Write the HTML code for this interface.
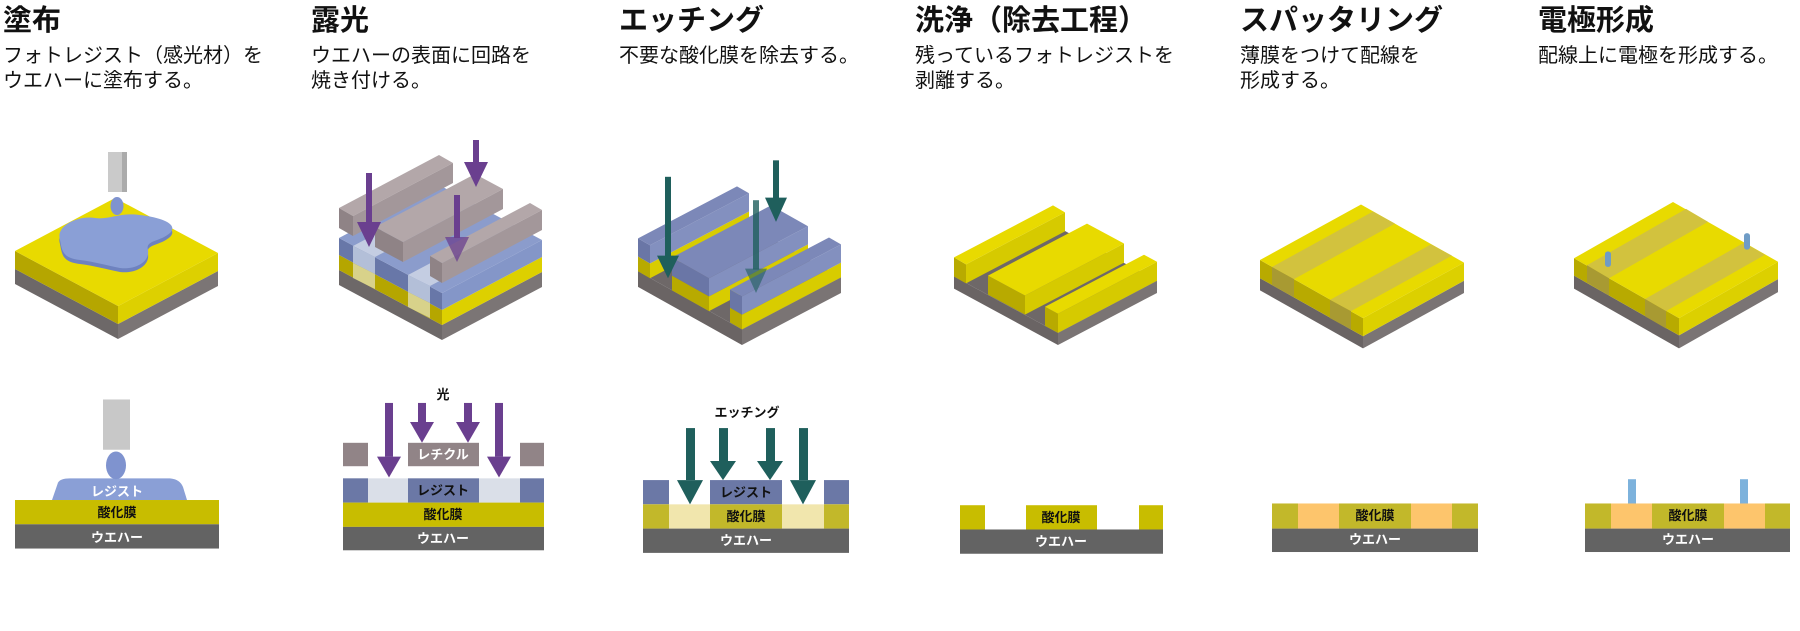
<!DOCTYPE html>
<html><head><meta charset="utf-8"><style>
body{margin:0;width:1800px;height:631px;background:#fff;overflow:hidden;position:relative;font-family:"Liberation Sans","Noto Sans CJK JP",sans-serif;color:#111}
.t{position:absolute;top:4px;font-size:29px;font-weight:bold;line-height:34px;white-space:nowrap}
.d{position:absolute;top:44px;font-size:20px;line-height:25px;white-space:nowrap}
svg{position:absolute;left:0;top:0}
svg text{font-family:"Liberation Sans","Noto Sans CJK JP",sans-serif;font-weight:bold;font-size:13px;text-anchor:middle}
.w{fill:#fff}.k{fill:#111}
</style></head><body>
<div class="t" style="left:3px">塗布</div>
<div class="d" style="left:3px">フォトレジスト（感光材）を<br>ウエハーに塗布する。</div>
<div class="t" style="left:311px">露光</div>
<div class="d" style="left:311px">ウエハーの表面に回路を<br>焼き付ける。</div>
<div class="t" style="left:619px">エッチング</div>
<div class="d" style="left:619px">不要な酸化膜を除去する。</div>
<div class="t" style="left:915px">洗浄（除去工程）</div>
<div class="d" style="left:915px">残っているフォトレジストを<br>剥離する。</div>
<div class="t" style="left:1240px">スパッタリング</div>
<div class="d" style="left:1240px">薄膜をつけて配線を<br>形成する。</div>
<div class="t" style="left:1538px">電極形成</div>
<div class="d" style="left:1538px">配線上に電極を形成する。</div>

<svg width="1800" height="631" viewBox="0 0 1800 631">
<!-- COL1 3D -->
<polygon points="15,269 118,324 118,339 15,284" fill="#6d6868"/>
<polygon points="118,324 218,271 218,286 118,339" fill="#7b7575"/>
<polygon points="15,251 118,306 118,324 15,269" fill="#b5a600"/>
<polygon points="118,306 218,253 218,271 118,324" fill="#ddd000"/>
<polygon points="15,251 118,306 218,253 115,198" fill="#e8da00"/>
<path transform="translate(0,4)" d="M60,240 C55,225 80,215 95,218 C110,220 120,212 140,215 C165,218 178,225 170,233 C160,242 145,240 148,250 C150,262 135,270 120,268 C105,265 95,262 80,260 C62,258 62,250 60,240 Z" fill="#6e82bf"/>
<path d="M60,240 C55,225 80,215 95,218 C110,220 120,212 140,215 C165,218 178,225 170,233 C160,242 145,240 148,250 C150,262 135,270 120,268 C105,265 95,262 80,260 C62,258 62,250 60,240 Z" fill="#8a9fd6"/>
<rect x="108" y="152" width="19" height="40" fill="#cacaca"/>
<rect x="122" y="152" width="5" height="40" fill="#ababab"/>
<ellipse cx="117" cy="206" rx="6.5" ry="9" fill="#7f93cf"/>

<!-- COL2 3D -->
<polygon points="339,270 442,325 442,340 339,285" fill="#6d6868"/>
<polygon points="442,325 542,272 542,287 442,340" fill="#7b7575"/>
<polygon points="339,255 442,310 442,325 339,270" fill="#b5a600"/>
<polygon points="442,310 542,257 542,272 442,325" fill="#ddd000"/>
<polygon points="339,238 442,293 442,310 339,255" fill="#6877a8"/>
<polygon points="442,293 542,240 542,257 442,310" fill="#8496c8"/>
<polygon points="339,238 442,293 542,240 439,185" fill="#8b9ccc"/>
<polygon points="353,246 375,257 475,204 453,193" fill="#c4cde2"/>
<polygon points="408,275 430,286 530,233 508,222" fill="#c4cde2"/>
<polygon points="353,246 375,257 375,274 353,263" fill="#b3bfd8"/>
<polygon points="408,275 430,286 430,303 408,292" fill="#b3bfd8"/>
<polygon points="353,263 375,274 375,289 353,278" fill="#d8d28a"/>
<polygon points="408,292 430,303 430,318 408,307" fill="#d8d28a"/>
<polygon points="339,208 353,216 453,163 439,155" fill="#b3a7a9"/>
<polygon points="339,208 353,216 353,236 339,228" fill="#8f8386"/>
<polygon points="353,216 453,163 453,183 353,236" fill="#a3979a"/>
<polygon points="375,227 403,242 503,189 475,174" fill="#b3a7a9"/>
<polygon points="375,227 403,242 403,262 375,247" fill="#8f8386"/>
<polygon points="403,242 503,189 503,209 403,262" fill="#a3979a"/>
<polygon points="430,256 442,263 542,210 530,203" fill="#b3a7a9"/>
<polygon points="430,256 442,263 442,283 430,276" fill="#8f8386"/>
<polygon points="442,263 542,210 542,230 442,283" fill="#a3979a"/>
<g fill="#6a3f8f">
<rect x="366" y="173" width="6" height="50"/><polygon points="357,222 381,222 369,247"/>
<rect x="473" y="140" width="6" height="23"/><polygon points="464,162 488,162 476,187"/>
<rect x="454" y="195" width="6" height="43"/><polygon points="445,237 469,237 457,262" opacity="0.75"/>
</g>

<!-- COL3-6 3D (scaled) -->
<g transform="matrix(1,0,0,0.8667,0,0)">
<polygon points="638,313 742,380 742,398 638,331" fill="#6a6464"/>
<polygon points="742,380 841,320 841,338 742,398" fill="#7a7474"/>
<polygon points="638,313 742,380 841,320 737,253" fill="#6e6868"/>
<polygon points="638,313 650,321 650,304 638,296" fill="#b8aa00"/>
<polygon points="638,296 650,304 650,283 638,275" fill="#6a76a6"/>
<polygon points="650,304 749,244 749,261 650,321" fill="#d8cc00"/>
<polygon points="650,283 749,223 749,244 650,304" fill="#8390bf"/>
<polygon points="638,275 650,283 749,223 737,215" fill="#7c88b8"/>
<polygon points="672,335 709,359 709,342 672,318" fill="#b8aa00"/>
<polygon points="672,318 709,342 709,321 672,297" fill="#6a76a6"/>
<polygon points="709,342 808,282 808,299 709,359" fill="#d8cc00"/>
<polygon points="709,321 808,261 808,282 709,342" fill="#8390bf"/>
<polygon points="672,297 709,321 808,261 771,237" fill="#7c88b8"/>
<polygon points="730,372 742,380 742,363 730,355" fill="#b8aa00"/>
<polygon points="730,355 742,363 742,342 730,334" fill="#6a76a6"/>
<polygon points="742,363 841,303 841,320 742,380" fill="#d8cc00"/>
<polygon points="742,342 841,282 841,303 742,363" fill="#8390bf"/>
<polygon points="730,334 742,342 841,282 829,274" fill="#7c88b8"/>
<g fill="#1f5f5c">
<rect x="665" y="204" width="6" height="92"/><polygon points="657,295 679,295 668,321"/>
<rect x="773" y="185" width="6" height="44"/><polygon points="765,228 787,228 776,256"/>
<rect x="753" y="231" width="6" height="80" opacity="0.8"/><polygon points="745,310 767,310 756,338" opacity="0.6"/>
</g>
<polygon points="954,319 1058,384 1058,398 954,333" fill="#6a6464"/>
<polygon points="1058,384 1157,324 1157,338 1058,398" fill="#7a7474"/>
<polygon points="954,319 1058,384 1157,324 1053,259" fill="#6e6868"/>
<polygon points="954,319 966,327 966,305 954,297" fill="#b8aa00"/>
<polygon points="966,305 1065,245 1065,267 966,327" fill="#d6ca00"/>
<polygon points="954,297 966,305 1065,245 1053,237" fill="#e8da00"/>
<polygon points="988,340 1025,363 1025,341 988,318" fill="#b8aa00"/>
<polygon points="1025,341 1124,281 1124,303 1025,363" fill="#d6ca00"/>
<polygon points="988,318 1025,341 1124,281 1087,258" fill="#e8da00"/>
<polygon points="1045,376 1058,384 1058,362 1045,354" fill="#b8aa00"/>
<polygon points="1058,362 1157,302 1157,324 1058,384" fill="#d6ca00"/>
<polygon points="1045,354 1058,362 1157,302 1144,294" fill="#e8da00"/>
<polygon points="1260,321 1363,388 1363,402 1260,335" fill="#6a6464"/>
<polygon points="1363,388 1464,324 1464,338 1363,402" fill="#7a7474"/>
<polygon points="1260,300 1363,367 1363,388 1260,321" fill="#b8aa00"/>
<polygon points="1363,367 1464,303 1464,324 1363,388" fill="#dcd000"/>
<polygon points="1260,300 1363,367 1464,303 1361,236" fill="#e8da00"/>
<polygon points="1272,308 1294,322 1395,258 1373,244" fill="#d2c23e"/>
<polygon points="1330,346 1351,359 1452,295 1431,282" fill="#d2c23e"/>
<polygon points="1272,308 1294,322 1294,343 1272,329" fill="#a89a32"/>
<polygon points="1330,346 1351,359 1351,380 1330,367" fill="#a89a32"/>
<polygon points="1574,318 1679,387 1679,402 1574,333" fill="#6a6464"/>
<polygon points="1679,387 1778,322 1778,337 1679,402" fill="#7a7474"/>
<polygon points="1574,298 1679,367 1679,387 1574,318" fill="#b8aa00"/>
<polygon points="1679,367 1778,302 1778,322 1679,387" fill="#dcd000"/>
<polygon points="1574,298 1679,367 1778,302 1673,233" fill="#e8da00"/>
<polygon points="1587,306 1609,321 1708,256 1686,241" fill="#d2c23e"/>
<polygon points="1645,345 1666,359 1765,294 1744,280" fill="#d2c23e"/>
<polygon points="1587,306 1609,321 1609,341 1587,326" fill="#a89a32"/>
<polygon points="1645,345 1666,359 1666,379 1645,365" fill="#a89a32"/>
<rect x="1605" y="290" width="6" height="18" rx="3" fill="#6f9cc6"/>
<rect x="1744" y="269" width="6" height="19" rx="3" fill="#6f9cc6"/>
</g>

<!-- SECTIONS (scaled) -->
<g transform="matrix(1,0,0,0.8667,0,49.33)">
<rect x="103" y="404" width="27" height="58" fill="#c8c8c8"/>
<path d="M52,520 L58,500 Q60,495 70,495 L170,495 Q180,496 183,505 L187,520 Z" fill="#8a9fd6"/>
<ellipse cx="116" cy="480" rx="10" ry="16" fill="#7f93cf"/>
<rect x="15" y="520" width="204" height="28" fill="#c8bd00"/>
<rect x="15" y="548" width="204" height="28" fill="#636363"/>

<g fill="#6a3f8f">
<rect x="385" y="408" width="8" height="62"/><polygon points="377,470 401,470 389,494"/>
<rect x="495" y="408" width="8" height="62"/><polygon points="487,470 511,470 499,494"/>
<rect x="418" y="408" width="8" height="22"/><polygon points="410,430 434,430 422,454"/>
<rect x="464" y="408" width="8" height="22"/><polygon points="456,430 480,430 468,454"/>
</g>
<rect x="343" y="454" width="25" height="27" fill="#918487"/>
<rect x="408" y="454" width="71" height="27" fill="#918487"/>
<rect x="520" y="454" width="24" height="27" fill="#918487"/>
<rect x="343" y="495" width="201" height="28" fill="#dadfe8"/>
<rect x="343" y="495" width="25" height="28" fill="#6b78a6"/>
<rect x="408" y="495" width="71" height="28" fill="#6b78a6"/>
<rect x="520" y="495" width="24" height="28" fill="#6b78a6"/>
<rect x="343" y="523" width="201" height="28" fill="#c8bd00"/>
<rect x="343" y="551" width="201" height="27" fill="#636363"/>

<rect x="643" y="497" width="26" height="28" fill="#6b78a6"/>
<rect x="710" y="497" width="72" height="28" fill="#6b78a6"/>
<rect x="824" y="497" width="25" height="28" fill="#6b78a6"/>
<rect x="643" y="525" width="206" height="28" fill="#f1e6ad"/>
<rect x="643" y="525" width="26" height="28" fill="#c2b82a"/>
<rect x="710" y="525" width="72" height="28" fill="#c2b82a"/>
<rect x="824" y="525" width="25" height="28" fill="#c2b82a"/>
<rect x="643" y="553" width="206" height="28" fill="#636363"/>
<g fill="#1f5f5c">
<rect x="686" y="437" width="9" height="60"/><polygon points="677,497 703,497 690,525"/>
<rect x="799" y="437" width="9" height="60"/><polygon points="790,497 816,497 803,525"/>
<rect x="719" y="437" width="9" height="38"/><polygon points="710,475 736,475 723,497"/>
<rect x="766" y="437" width="9" height="38"/><polygon points="757,475 783,475 770,497"/>
</g>

<rect x="960" y="526" width="25" height="28" fill="#c8bd00"/>
<rect x="1026" y="526" width="71" height="28" fill="#c8bd00"/>
<rect x="1139" y="526" width="24" height="28" fill="#c8bd00"/>
<rect x="960" y="554" width="203" height="28" fill="#636363"/>

<rect x="1272" y="524" width="206" height="29" fill="#fdc56c"/>
<rect x="1272" y="524" width="26" height="29" fill="#c2b82a"/>
<rect x="1339" y="524" width="72" height="29" fill="#c2b82a"/>
<rect x="1452" y="524" width="26" height="29" fill="#c2b82a"/>
<rect x="1272" y="553" width="206" height="27" fill="#636363"/>

<rect x="1628" y="496" width="8" height="28" fill="#7db2dc"/>
<rect x="1740" y="496" width="8" height="28" fill="#7db2dc"/>
<rect x="1585" y="524" width="205" height="29" fill="#fdc56c"/>
<rect x="1585" y="524" width="26" height="29" fill="#c2b82a"/>
<rect x="1652" y="524" width="72" height="29" fill="#c2b82a"/>
<rect x="1765" y="524" width="25" height="29" fill="#c2b82a"/>
<rect x="1585" y="553" width="205" height="27" fill="#636363"/>
</g>

<text x="117" y="496" class="w">レジスト</text>
<text x="117" y="517" class="k">酸化膜</text>
<text x="117" y="542" class="w">ウエハー</text>
<text x="443" y="399" class="k">光</text>
<text x="443" y="459" class="w">レチクル</text>
<text x="443" y="495" class="k">レジスト</text>
<text x="443" y="519" class="k">酸化膜</text>
<text x="443" y="543" class="w">ウエハー</text>
<text x="747" y="417" class="k">エッチング</text>
<text x="746" y="497" class="k">レジスト</text>
<text x="746" y="521" class="k">酸化膜</text>
<text x="746" y="545" class="w">ウエハー</text>
<text x="1061" y="522" class="k">酸化膜</text>
<text x="1061" y="546" class="w">ウエハー</text>
<text x="1375" y="520" class="k">酸化膜</text>
<text x="1375" y="544" class="w">ウエハー</text>
<text x="1688" y="520" class="k">酸化膜</text>
<text x="1688" y="544" class="w">ウエハー</text>
</svg>
</body></html>
